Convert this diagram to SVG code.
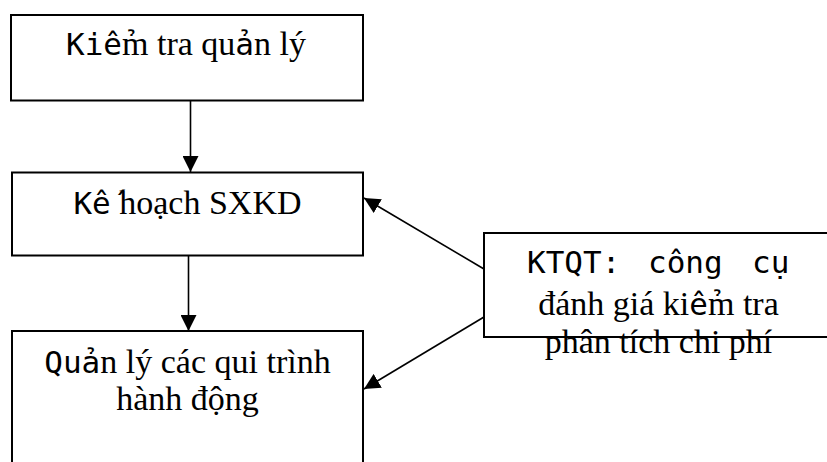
<svg xmlns="http://www.w3.org/2000/svg" width="827" height="462" viewBox="0 0 827 462">
  <style>
    .box { fill: #ffffff; stroke: #000000; stroke-width: 2; }
    .link { stroke: #000000; stroke-width: 1.6; fill: none; }
    .lbl { font-family: "Liberation Serif", "Times New Roman", serif; font-size: 34px; fill: #000000; }
    .mono { font-family: "DejaVu Sans Mono", "Liberation Mono", monospace; font-size: 31px; }
  </style>
  <defs>
    <marker id="arrow" markerUnits="userSpaceOnUse" markerWidth="16" markerHeight="16" viewBox="0 0 16 16" refX="16" refY="8" orient="auto">
      <path d="M0,0 L16,8 L0,16 z" fill="#000000"/>
    </marker>
  </defs>

  <g id="connectors">
    <line class="link" x1="190.5" y1="101" x2="190.5" y2="172" marker-end="url(#arrow)"/>
    <line class="link" x1="188.5" y1="256" x2="188.5" y2="331" marker-end="url(#arrow)"/>
    <line class="link" x1="484" y1="269" x2="364" y2="198" marker-end="url(#arrow)"/>
    <line class="link" x1="484" y1="317" x2="364" y2="389" marker-end="url(#arrow)"/>
  </g>

  <g id="kiem-tra-quan-ly">
    <rect class="box" x="11" y="15" width="352" height="85.5"/>
    <text class="lbl" x="186" y="55" text-anchor="middle"><tspan class="mono">Ki&#x1EC3;</tspan>m tra qu<tspan class="mono">&#x1EA3;</tspan>n l&#xFD;</text>
  </g>

  <g id="ke-hoach-sxkd">
    <rect class="box" x="12" y="172.5" width="351" height="83"/>
    <text class="lbl" x="187.5" y="214" text-anchor="middle"><tspan class="mono">K&#x1EBF;</tspan> ho&#x1EA1;ch SXKD</text>
  </g>

  <g id="quan-ly-qui-trinh">
    <rect class="box" x="12" y="331" width="351" height="150"/>
    <text class="lbl" x="187.5" y="373" text-anchor="middle"><tspan class="mono">Qu&#x1EA3;</tspan>n l&#xFD; c&#xE1;c qui tr&#xEC;nh</text>
    <text class="lbl" x="187.5" y="410" text-anchor="middle">h&#xE0;nh &#x111;&#x1ED9;ng</text>
  </g>

  <g id="ktqt">
    <rect class="box" x="484" y="233" width="360" height="104"/>
    <text class="lbl mono" y="273"><tspan x="527">KTQT:</tspan><tspan x="648">c&#xF4;ng</tspan><tspan x="752">c&#x1EE5;</tspan></text>
    <text class="lbl" x="658.5" y="315" text-anchor="middle">&#x111;&#xE1;nh gi&#xE1; ki<tspan class="mono">&#x1EC3;</tspan>m tra</text>
    <text class="lbl" x="658.5" y="353" text-anchor="middle">ph&#xE2;n t&#xED;ch chi ph&#xED;</text>
  </g>
</svg>
